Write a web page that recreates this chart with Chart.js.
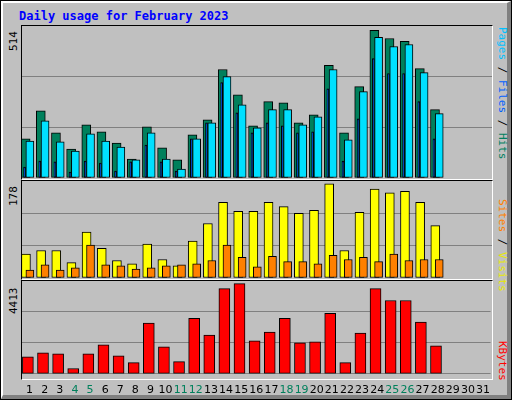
<!DOCTYPE html>
<html>
<head>
<meta charset="utf-8">
<script src="https://cdn.jsdelivr.net/npm/chart.js@4"></script>
<style>
  body { margin: 0; background: #c0c0c0; }
  #wrap { position: relative; width: 510px; height: 398px; border: 1px solid #000; background: #c0c0c0; overflow: hidden; font-family: "DejaVu Sans Mono", monospace; }
  #bevel { position: absolute; left: 0; top: 0; width: 504px; height: 392px; border-top: 2px solid #fff; border-left: 2px solid #fff; border-right: 4px solid #808080; border-bottom: 4px solid #808080; }
  .frame { position: absolute; left: 20px; width: 470px; border-top: 1px solid #000; border-left: 1px solid #000; border-bottom: 1px solid #fff; border-right: 1px solid #fff; }
  canvas { position: absolute; }
  .t { position: absolute; font-size: 11px; white-space: nowrap; }
  .rot { transform-origin: 0 0; transform: rotate(-90deg); }
  .rotr { transform-origin: 0 0; transform: rotate(90deg); }
</style>
</head>
<body>
<div id="wrap">
  <div id="bevel"></div>
  <div class="t" style="left:18px;top:8px;color:#0000ff;font-weight:bold;font-size:12px">Daily usage for February 2023</div>
  <div class="frame" style="top:24px;height:153px"></div>
  <div class="frame" style="top:179px;height:98px"></div>
  <div class="frame" style="top:279px;height:98px"></div>
  <canvas id="c1" width="470" height="152" style="left:21px;top:25px"></canvas>
  <canvas id="c2" width="470" height="97" style="left:21px;top:180px"></canvas>
  <canvas id="c3" width="470" height="118" style="left:21px;top:280px"></canvas>
  <div class="t rot" style="left:6px;top:50px;color:#000">514</div>
  <div class="t rot" style="left:6px;top:205px;color:#000">178</div>
  <div class="t rot" style="left:6px;top:313px;color:#000">4413</div>
  <div class="t rotr" style="left:508px;top:26px"><span style="color:#00c0ff">Pages</span> / <span style="color:#0060ff">Files</span> / <span style="color:#008060">Hits</span></div>
  <div class="t rotr" style="left:508px;top:198px"><span style="color:#ff8000">Sites</span> / <span style="color:#e8e800">Visits</span></div>
  <div class="t rotr" style="left:508px;top:340px;color:#ff0000">KBytes</div>
</div>
<script>
const days = Array.from({ length: 31 }, (_, i) => i + 1);
const weekend = [4, 5, 11, 12, 18, 19, 25, 26];

const hits = [136, 234, 157, 101, 185, 161, 122, 66, 178, 105, 63, 150, 203, 378, 290, 182, 266, 262, 192, 220, 392, 157, 318, 514, 486, 476, 381, 238];
const files = [129, 199, 126, 94, 154, 129, 108, 63, 157, 66, 31, 136, 192, 353, 255, 175, 238, 238, 185, 213, 378, 133, 301, 490, 458, 465, 367, 224];
const pages = [38, 59, 56, 21, 59, 52, 24, 56, 115, 56, 24, 136, 192, 332, 227, 157, 192, 182, 157, 161, 311, 59, 206, 416, 364, 364, 266, 136];
const sites = [45, 52, 52, 29, 87, 56, 33, 27, 64, 35, 23, 70, 103, 143, 126, 126, 143, 135, 122, 128, 178, 52, 124, 168, 161, 164, 143, 99];
const visits = [15, 25, 15, 19, 62, 25, 23, 17, 19, 23, 25, 27, 33, 62, 39, 21, 41, 31, 31, 27, 43, 35, 39, 31, 45, 33, 35, 35];
const kbytes = [837, 1030, 982, 258, 982, 1417, 886, 547, 2480, 1320, 596, 2721, 1900, 4170, 4413, 1610, 2045, 2721, 1513, 1562, 2962, 547, 1996, 4170, 3590, 3590, 2528, 1368];

const pts = (arr, shift) => arr.map((v, i) => ({ x: i + 1 + shift, y: v }));

function ds(arr, shift, color, w) {
  return { data: pts(arr, shift), backgroundColor: color, borderColor: "#000", borderWidth: 1, borderSkipped: false, barThickness: w, grouped: false };
}

function makeChart(id, datasets, top, showX) {
  return new Chart(document.getElementById(id), {
    type: "bar",
    data: { datasets: datasets },
    options: {
      responsive: false,
      animation: false,
      layout: { padding: 0 },
      plugins: { legend: { display: false }, tooltip: { enabled: false } },
      scales: {
        x: {
          type: "linear", min: 0.5, max: 31.5, offset: false,
          display: showX,
          grid: { display: false }, border: { display: false },
          afterBuildTicks: (s) => { s.ticks = days.map((d) => ({ value: d })); },
          ticks: {
            autoSkip: false, maxRotation: 0, padding: 2,
            font: { family: "DejaVu Sans", size: 11 },
            color: (c) => weekend.includes(c.tick.value) ? "#00805c" : "#000",
          },
        },
        y: {
          min: 0, max: top, display: true,
          afterFit: (s) => { s.width = 0; },
          afterBuildTicks: (s) => { s.ticks = [0, top / 3, top * 2 / 3].map((v) => ({ value: v })); },
          ticks: { display: false },
          grid: { color: "#808080", lineWidth: 1, drawTicks: false },
          border: { display: false },
        },
      },
    },
  });
}

makeChart("c1", [
  ds(pages, -0.33, "#0040ff", 2),
  ds(files, 0.02, "#00e0ff", 8),
  ds(hits, -0.26, "#00805c", 9),
], 514 * 1.03, false);

makeChart("c2", [
  ds(visits, 0.02, "#ff8000", 8),
  ds(sites, -0.24, "#ffff00", 9),
], 178 * 1.03, false);

makeChart("c3", [
  ds(kbytes, -0.11, "#ff0000", 11),
], 4413 * 1.03 * 118 / 97 * 0 + 4413 * 1.03, true);
</script>
</body>
</html>
